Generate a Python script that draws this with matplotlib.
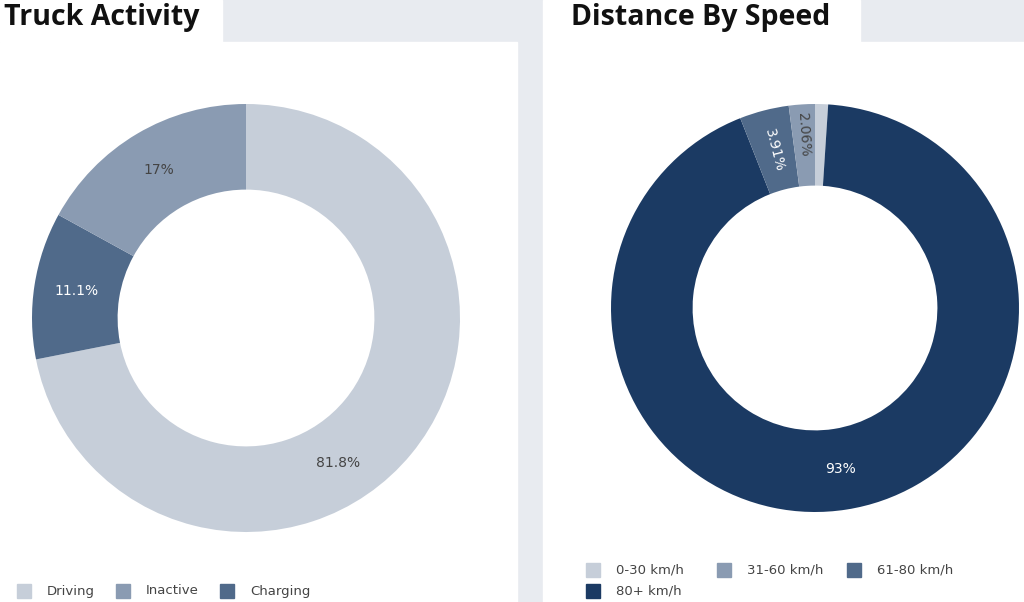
import matplotlib
matplotlib.use("Agg")
import matplotlib.pyplot as plt
from matplotlib.patches import Rectangle
import numpy as np

# data
activity_order = ["Driving", "Charging", "Inactive"]          # clockwise from top
activity_share = [71.9, 11.1, 17.0]
activity_text = ["81.8%", "11.1%", "17%"]
activity_text_angle = [147.6, 279.0, 329.5]                  # deg clockwise from top
activity_legend = ["Driving", "Inactive", "Charging"]

speed_order = ["0-30 km/h", "80+ km/h", "61-80 km/h", "31-60 km/h"]
speed_share = [1.03, 93.0, 3.91, 2.06]
speed_text = ["", "93%", "3.91%", "2.06%"]
speed_legend = ["0-30 km/h", "31-60 km/h", "61-80 km/h", "80+ km/h"]

colors = {
    "Driving": "#c6ced9", "Inactive": "#8a9bb2", "Charging": "#506a8a",
    "0-30 km/h": "#c6ced9", "31-60 km/h": "#8a9bb2",
    "61-80 km/h": "#506a8a", "80+ km/h": "#1b3a63",
}
dark = {"Charging", "80+ km/h", "61-80 km/h"}

W, H = 1024, 602
BG = "#e8ebf0"

fig = plt.figure(figsize=(W / 100, H / 100), dpi=100)
fig.patch.set_facecolor(BG)


def px_rect(x0, y0, x1, y1, color, z=-10):
    fig.patches.append(Rectangle((x0 / W, 1 - y1 / H), (x1 - x0) / W, (y1 - y0) / H,
                                 transform=fig.transFigure, color=color, zorder=z))


# white panels
px_rect(0, 42, 517, H, "white")
px_rect(0, 0, 222, 42, "white")
px_rect(543, 42, W, H, "white")
px_rect(543, 0, 860, 42, "white")

title_font = dict(family="Open Sans", weight="bold", fontsize=20.5, color="#111111")
fig.text(4 / W, 1 - 17 / H, "Truck Activity", va="center", ha="left", **title_font)
fig.text(571 / W, 1 - 17 / H, "Distance By Speed", va="center", ha="left", **title_font)


def donut(cx, cy, r, order, share, texts, text_angles=None, rotate=None, text_r=None):
    ax = fig.add_axes([(cx - r) / W, 1 - (cy + r) / H, 2 * r / W, 2 * r / H])
    ax.set_zorder(2)
    ax.pie(share, colors=[colors[k] for k in order], startangle=90,
           counterclock=False, radius=1,
           wedgeprops=dict(width=0.4, linewidth=0))
    ax.set_xlim(-1, 1)
    ax.set_ylim(-1, 1)
    ax.set_aspect("auto")
    ax.axis("off")
    total = sum(share)
    start = 0.0
    for i, (k, s, t) in enumerate(zip(order, share, texts)):
        mid = start + s / total * 360 / 2
        start += s / total * 360
        if not t:
            continue
        a = text_angles[i] if text_angles else mid
        rr = text_r[i] if text_r else 0.8
        th = np.deg2rad(90 - a)
        x, y = rr * np.cos(th), rr * np.sin(th)
        rot = 0
        if rotate and rotate[i]:
            rot = -(90 - (360 - a))
        ax.text(x, y, t, ha="center", va="center", fontsize=10, family="DejaVu Sans",
                rotation=rot, rotation_mode="anchor",
                color="white" if k in dark else "#444444")
    return ax


donut(246, 318, 214, activity_order, activity_share, activity_text, activity_text_angle)
donut(815, 308, 204, speed_order, speed_share, speed_text,
      rotate=[False, False, True, True], text_r=[0.8, 0.8, 0.8, 0.85])


def legend(items, positions, row_y):
    for name, x, y in zip(items, positions, row_y):
        px_rect(x, y - 7, x + 14, y + 7, colors[name], z=5)
        fig.text((x + 30) / W, 1 - y / H, name, va="center", ha="left",
                 fontsize=9.5, family="DejaVu Sans", color="#444444")


legend(activity_legend, [17, 116, 220], [591, 591, 591])
legend(speed_legend, [586, 717, 847, 586], [570, 570, 570, 591])

fig.savefig("out.png", dpi=100, facecolor=fig.get_facecolor())
